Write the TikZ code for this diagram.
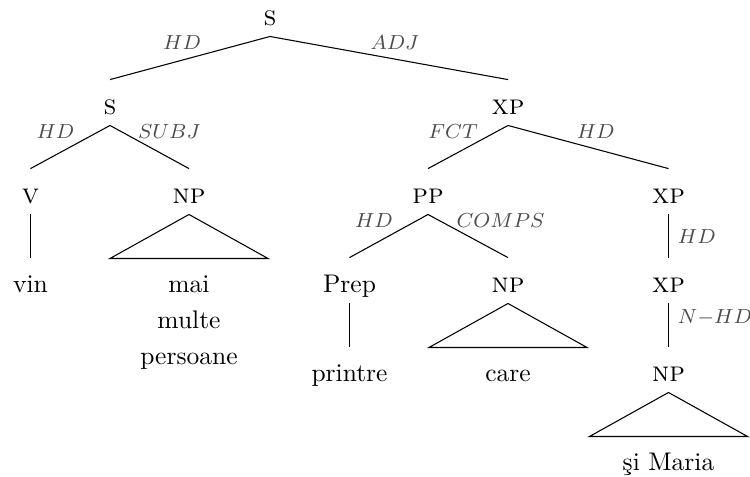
\documentclass[tikz,border=0pt]{standalone}
\usepackage{fontspec}
\tikzstyle{cat} = [
    font=\fontsize{11pt}{13pt}\selectfont\scshape,
    anchor=base,
    inner sep=0pt,
    text height=13.3pt,
    text depth=4.3pt
]
\tikzstyle{word} = [
    anchor=base,
    inner sep=0pt,
    text height=13.3pt,
    text depth=4.3pt
]
\tikzstyle{branch} = [line width=0.42pt]
\tikzstyle{relleft} = [
    font=\footnotesize,
    text=black!70,
    inner sep=0pt,
    midway,
    anchor=base east,
    xshift=1.8pt,
    yshift=3.3pt
]
\tikzstyle{relright} = [
    font=\footnotesize,
    text=black!70,
    inner sep=0pt,
    midway,
    anchor=base west,
    xshift=-4.7pt,
    yshift=3.3pt
]
\tikzstyle{relside} = [
    font=\footnotesize,
    text=black!70,
    inner sep=0pt,
    anchor=west,
    xshift=3.5pt
]

\begin{document}
\begin{tikzpicture}[x=0.3922pt, y=-0.3922pt, node distance=14.12pt]

\useasboundingbox (0,0) rectangle (750,476);

% categories
\node (s0) [cat] at (270,25) {s};

\node (s1) [cat] at (110,114) {s};
\node (xp1) [cat] at (508,114) {xp};

\node (v) [cat] at (30.5,203) {v};
\node (np1) [cat] at (189,203) {np};
\node (pp) [cat] at (428,203) {pp};
\node (xp2) [cat] at (668.5,203) {xp};

\node (prep) [word] at (349.5,292) {Prep};
\node (np2) [cat] at (508,292) {np};
\node (xp3) [cat] at (668.5,292) {xp};

\node (np3) [cat] at (668.5,381) {np};

% words
\node (vin) [word] at (30.5,292) {vin};
\node (mai) [word] at (189,292) {mai};
\node (multe) [word, below of=mai] {multe};
\node (persoane) [word, below of=multe] {persoane};

\node (printre) [word] at (349.5,381) {printre};
\node (care) [word] at (508,381) {care};

\node (simaria) [word] at (668.5,470) {şi Maria};

% branches
\draw [branch] (s0.south) -- (s1.north) node [relleft, xshift=2.7pt] {$HD$};
\draw [branch] (s0.south) -- (xp1.north) node [relright, xshift=-2.7pt] {$ADJ$};

\draw [branch] (s1.south) -- (v.north) node [relleft] {$HD$};
\draw [branch] (s1.south) -- (np1.north) node [relright] {$SUBJ$};

\draw [branch] (xp1.south) -- (pp.north) node [relleft, xshift=2.2pt] {$FCT$};
\draw [branch] (xp1.south) -- (xp2.north) node [relright] {$HD$};

\draw [branch] (pp.south) -- (prep.north) node [relleft] {$HD$};
\draw [branch] (pp.south) -- (np2.north) node [relright] {$COMPS$};

\draw [branch] (xp2.south) -- (xp3.north) node [relside, pos=.5] {$HD$};
\draw [branch] (xp3.south) -- (np3.north) node [relside, pos=.32] {$N{-}HD$};

\draw [branch] (v.south) -- (vin.north);
\draw [branch] (prep.south) -- (printre.north);

% triangles
\draw [branch] (np1.south) -- ++(-79,44) -- ++(158,0) -- cycle;
\draw [branch] (np2.south) -- ++(-79,44) -- ++(158,0) -- cycle;
\draw [branch] (np3.south) -- ++(-79,44) -- ++(158,0) -- cycle;

\end{tikzpicture}
\end{document}
